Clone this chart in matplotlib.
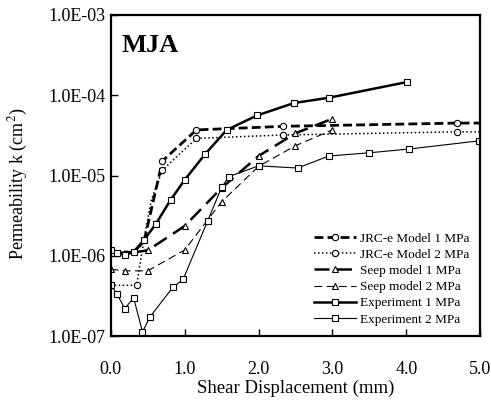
import matplotlib
matplotlib.use("Agg")
import matplotlib.pyplot as plt
from matplotlib.ticker import FixedLocator, FuncFormatter, NullLocator

plt.rcParams['font.family'] = ['Liberation Serif', 'DejaVu Serif']
plt.rcParams['mathtext.fontset'] = 'stix'

# ---- data ----
jrc1_x = [0.0, 0.3, 0.45, 0.70, 1.16, 2.33, 4.68, 5.0]
jrc1_y = [1.15e-6, 1.1e-6, 1.5e-6, 1.52e-5, 3.7e-5, 4.1e-5, 4.5e-5, 4.5e-5]

jrc2_x = [0.0, 0.35, 0.45, 0.55, 0.70, 1.16, 2.33, 4.68, 5.0]
jrc2_y = [4.3e-7, 4.3e-7, 1.6e-6, 5.0e-6, 1.17e-5, 2.9e-5, 3.2e-5, 3.5e-5, 3.5e-5]

seep1_x = [0.0, 0.25, 0.5, 1.0, 1.5, 2.0, 2.5, 3.0]
seep1_y = [1.12e-6, 1.08e-6, 1.17e-6, 2.35e-6, 7.0e-6, 1.75e-5, 3.36e-5, 5.1e-5]

seep2_x = [0.0, 0.2, 0.5, 1.0, 1.5, 2.0, 2.5, 3.0]
seep2_y = [6.8e-7, 6.5e-7, 6.5e-7, 1.18e-6, 4.7e-6, 1.3e-5, 2.35e-5, 3.7e-5]

exp1_x = [0.0, 0.09, 0.19, 0.31, 0.45, 0.61, 0.81, 1.0, 1.28, 1.57, 1.98, 2.48, 2.95, 4.01]
exp1_y = [1.18e-6, 1.09e-6, 1.02e-6, 1.12e-6, 1.57e-6, 2.49e-6, 4.96e-6, 8.8e-6,
          1.86e-5, 3.7e-5, 5.6e-5, 8.0e-5, 9.3e-5, 1.46e-4]

exp2_x = [0.0, 0.09, 0.19, 0.31, 0.43, 0.53, 0.84, 0.98, 1.31, 1.5, 1.60, 2.0,
          2.53, 2.95, 3.5, 4.04, 4.98]
exp2_y = [4.3e-7, 3.3e-7, 2.2e-7, 3.0e-7, 1.13e-7, 1.73e-7, 4.05e-7, 5.1e-7,
          2.7e-6, 7.1e-6, 9.7e-6, 1.32e-5, 1.24e-5, 1.75e-5, 1.92e-5, 2.14e-5, 2.7e-5]

x_ticks = [0.0, 1.0, 2.0, 3.0, 4.0, 5.0]
y_ticks = [1e-7, 1e-6, 1e-5, 1e-4, 1e-3]
y_tick_labels = ["1.0E-07", "1.0E-06", "1.0E-05", "1.0E-04", "1.0E-03"]

fig = plt.figure(figsize=(4.91, 4.04), dpi=100)
ax = fig.add_axes([0.2255, 0.168, 0.7525, 0.795])

mk = dict(markerfacecolor='white', markeredgecolor='black', markeredgewidth=0.8)

ax.plot(jrc1_x, jrc1_y, color='black', lw=2.0, linestyle=(0, (3.2, 1.5)),
        marker='o', markersize=4.5, markevery=[3, 4, 5, 6],
        label='JRC-e Model 1 MPa', **mk)
ax.plot(jrc2_x, jrc2_y, color='black', lw=1.1, linestyle=(0, (1, 1.6)),
        marker='o', markersize=4.5, markevery=[1, 4, 5, 6, 7],
        label='JRC-e Model 2 MPa', **mk)
ax.plot(seep1_x, seep1_y, color='black', lw=1.8, linestyle=(0, (6, 3)),
        marker='^', markersize=5, markevery=[2, 3, 4, 5, 6, 7],
        label='Seep model 1 MPa', **mk)
ax.plot(seep2_x, seep2_y, color='black', lw=0.8, linestyle=(0, (7, 4)),
        marker='^', markersize=5,
        label='Seep model 2 MPa', **mk)
ax.plot(exp1_x, exp1_y, color='black', lw=1.8, marker='s', markersize=4.5,
        label='Experiment 1 MPa', **mk)
ax.plot(exp2_x, exp2_y, color='black', lw=0.8, marker='s', markersize=4.5,
        label='Experiment 2 MPa', **mk)

ax.set_yscale('log')
ax.set_xlim(0, 5)
ax.set_ylim(1e-7, 1e-3)
ax.xaxis.set_major_locator(FixedLocator(x_ticks))
ax.xaxis.set_major_formatter(FuncFormatter(lambda v, p: f"{v:.1f}"))
ax.yaxis.set_major_locator(FixedLocator(y_ticks))
ax.yaxis.set_minor_locator(NullLocator())
ax.set_yticklabels(y_tick_labels)
ax.tick_params(axis='both', direction='in', length=5, width=1, labelsize=13,
               top=False, right=False)
ax.tick_params(axis='x', pad=18)
ax.tick_params(axis='y', pad=4)
for s in ax.spines.values():
    s.set_linewidth(1.6)

ax.set_xlabel('Shear Displacement (mm)', fontsize=13.5, labelpad=1)
ax.set_ylabel(r'Permeability k (cm$^2$)', fontsize=13)
ax.yaxis.set_label_coords(-0.218, 0.475)

ax.text(0.03, 0.94, 'MJA', transform=ax.transAxes, fontsize=19,
        fontweight='bold', va='top', ha='left')

leg = ax.legend(loc='lower right', frameon=False, fontsize=9.5,
                handlelength=3.2, handletextpad=0.3, labelspacing=0.3,
                borderaxespad=0.4)

fig.savefig('out.png', dpi=100)
